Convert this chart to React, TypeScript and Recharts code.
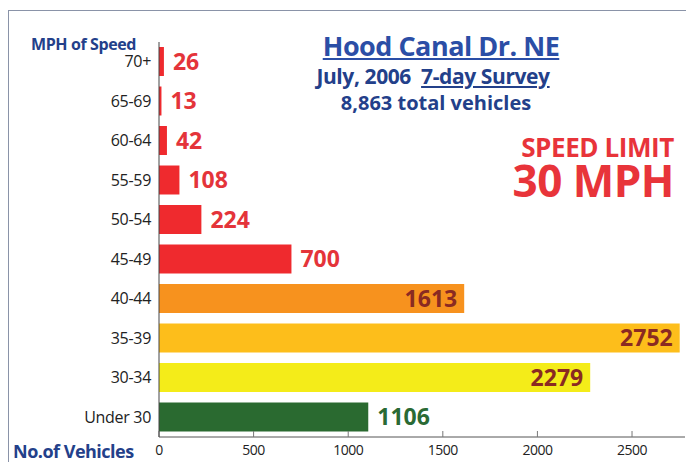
import React from 'react';
import { BarChart, Bar, XAxis, YAxis, Cell, LabelList } from 'recharts';

const speedBands = ['70+', '65-69', '60-64', '55-59', '50-54', '45-49', '40-44', '35-39', '30-34', 'Under 30'];
const vehicleCounts = [26, 13, 42, 108, 224, 700, 1613, 2752, 2279, 1106];
const countTicks = [0, 500, 1000, 1500, 2000, 2500];

// bar fill and label colour per speed band
const barFills = ['#ef2a2e', '#ef2a2e', '#ef2a2e', '#ef2a2e', '#ef2a2e', '#ef2a2e', '#f7921e', '#fdbe1b', '#f4ec19', '#2a6a30'];
const labelColors = ['#e4343a', '#e4343a', '#e4343a', '#e4343a', '#e4343a', '#e4343a', '#8a2a22', '#8a2a22', '#8a2a22', '#2a6a34'];
const labelInside = [false, false, false, false, false, false, true, true, true, false];

const chartData = speedBands.map((band, i) => ({ band, count: vehicleCounts[i] }));

const navy = '#23408a';
const font = '"Open Sans", "Noto Sans", sans-serif';

const BarValue = (props: any) => {
  const { x, y, width, height, value, index } = props;
  const inside = labelInside[index];
  return (
    <text
      x={inside ? x + width - 7 : x + width + 9}
      y={y + height / 2}
      dy={8}
      textAnchor={inside ? 'end' : 'start'}
      fill={labelColors[index]}
      fontSize={23}
      fontWeight={700}
      fontFamily={font}
    >
      {value}
    </text>
  );
};

const line = (cx: number, top: number, lh: number): React.CSSProperties => ({
  position: 'absolute',
  left: cx - 200,
  width: 400,
  top,
  lineHeight: `${lh}px`,
  textAlign: 'center',
  fontFamily: font,
  fontWeight: 700,
  whiteSpace: 'nowrap',
});

const App: React.FC = () => {
  return (
    <div style={{ position: 'absolute', left: 0, top: 0, width: 686, height: 462, background: '#fff', overflow: 'hidden' }}>
      <div style={{ position: 'absolute', left: 8, top: 10, width: 690, height: 460, borderTop: '1px solid #8a93a8', borderLeft: '1px solid #8a93a8' }} />
      <BarChart
        layout="vertical"
        width={686}
        height={462}
        data={chartData}
        margin={{ top: 42, right: 1, bottom: 0, left: 0 }}
      >
        <XAxis
          type="number"
          domain={[0, 2780]}
          ticks={countTicks}
          axisLine={{ stroke: '#555' }}
          tickLine={{ stroke: '#777' }}
          tickSize={-6}
          tickMargin={14}
          tick={{ fill: '#222', fontSize: 14, fontFamily: font, letterSpacing: -0.5 }}
          height={25}
        />
        <YAxis
          type="category"
          dataKey="band"
          width={159}
          axisLine={{ stroke: '#444' }}
          tickLine={false}
          tickMargin={2}
          tick={{ fill: '#222', fontSize: 16, fontFamily: font, letterSpacing: -0.3 }}
        />
        <Bar dataKey="count" barSize={29} isAnimationActive={false}>
          {chartData.map((d, i) => (
            <Cell key={d.band} fill={barFills[i]} />
          ))}
          <LabelList dataKey="count" content={BarValue} />
        </Bar>
      </BarChart>

      <div style={{ position: 'absolute', left: 31, top: 34, lineHeight: '20px', fontFamily: font, fontWeight: 700, fontSize: 16, color: navy, letterSpacing: -0.4, whiteSpace: 'nowrap' }}>
        MPH of Speed
      </div>
      <div style={{ position: 'absolute', left: 13, top: 441, lineHeight: '20px', fontFamily: font, fontWeight: 700, fontSize: 18, color: navy, letterSpacing: -0.5, whiteSpace: 'nowrap' }}>
        No.of Vehicles
      </div>

      <div style={{ ...line(441, 28, 36), fontSize: 27, color: '#2b4ea6', letterSpacing: -0.5, textDecoration: 'underline' }}>
        Hood Canal Dr. NE
      </div>
      <div style={{ ...line(433, 62, 28), fontSize: 21, color: navy, letterSpacing: -0.4 }}>
        July, 2006&nbsp;&nbsp;<span style={{ textDecoration: 'underline' }}>7-day Survey</span>
      </div>
      <div style={{ ...line(436, 90, 26), fontSize: 20, color: navy, letterSpacing: 0 }}>
        8,863 total vehicles
      </div>

      <div style={{ position: 'absolute', right: 12, top: 135, lineHeight: '24px', fontFamily: font, fontWeight: 700, fontSize: 26, color: '#e8343a', letterSpacing: -0.4, whiteSpace: 'nowrap' }}>
        SPEED LIMIT
      </div>
      <div style={{ position: 'absolute', right: 12, top: 160, lineHeight: '40px', fontFamily: font, fontWeight: 700, fontSize: 44, color: '#e8343a', letterSpacing: -0.5, whiteSpace: 'nowrap' }}>
        30 MPH
      </div>
    </div>
  );
};

export default App;
